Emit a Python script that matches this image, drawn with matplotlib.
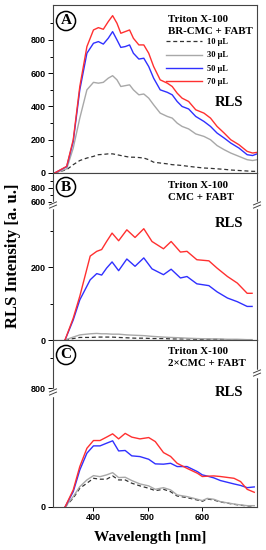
"""
RLS spectra, three stacked panels (A, B, C) with broken y axes
"""
import matplotlib
matplotlib.use("Agg")
import matplotlib.pyplot as plt
from matplotlib.lines import Line2D

# ---- data ------------------------------------------------------------------
labels = ["10 \u03bcL", "30 \u03bcL", "50 \u03bcL", "70 \u03bcL"]

# panel A: BR-CMC + FABT
wl_a = [330, 352, 364, 376, 389, 401, 410, 419, 428, 436, 444, 451, 459, 467,
        474, 484, 493, 502, 511, 523, 536, 545, 554, 563, 575, 588, 603, 615,
        627, 640, 652, 667, 682, 692, 700]
a_10 = [0, 20, 50, 75, 90, 100, 110, 112, 115, 115, 110, 105, 100, 95, 95, 93,
        90, 80, 65, 60, 55, 50, 48, 45, 40, 35, 30, 28, 25, 22, 18, 15, 12, 10, 10]
a_30 = [0, 25, 150, 330, 500, 545, 540, 545, 570, 585, 560, 520, 525, 530, 500,
        470, 475, 450, 410, 360, 340, 330, 300, 280, 265, 235, 220, 200, 165,
        140, 120, 100, 80, 75, 80]
a_50 = [0, 38, 190, 500, 720, 780, 790, 775, 810, 850, 800, 755, 760, 770, 720,
        685, 690, 640, 570, 500, 485, 470, 430, 400, 385, 340, 310, 280, 240,
        210, 180, 150, 110, 105, 115]
a_70 = [0, 40, 200, 520, 760, 860, 874, 864, 910, 946, 900, 840, 850, 860, 810,
        770, 770, 720, 640, 560, 540, 520, 480, 450, 430, 380, 360, 330, 280,
        240, 200, 170, 130, 120, 124]

# panel B: CMC + FABT
wl_b = [349, 364, 376, 395, 407, 416, 425, 435, 447, 462, 477, 493, 508, 529,
        543, 560, 572, 590, 612, 627, 646, 664, 682, 691]
b_10 = [0, 4, 7, 7, 8, 8, 8, 8, 7, 6, 5, 5, 4, 4, 3, 3, 3, 2, 2, 2, 1, 1, 1, 1]
b_30 = [0, 8, 14, 17, 18, 17, 17, 16, 16, 14, 13, 12, 10, 8, 7, 6, 5, 4, 3, 3,
        2, 2, 1, 1]
b_50 = [0, 55, 110, 165, 182, 178, 197, 214, 190, 222, 202, 225, 195, 179, 194,
        170, 174, 154, 149, 132, 115, 105, 92, 92]
b_70 = [0, 60, 120, 230, 243, 248, 270, 293, 272, 302, 281, 305, 270, 250, 270,
        241, 243, 220, 217, 197, 174, 156, 128, 128]

# panel C: 2xCMC + FABT
wl_c = [349, 364, 376, 389, 401, 413, 425, 436, 447, 459, 471, 486, 502, 514,
        529, 542, 554, 572, 591, 600, 609, 621, 633, 658, 670, 682, 695]
c_10 = [0, 60, 126, 160, 193, 187, 187, 209, 182, 182, 160, 142, 126, 110, 119,
        103, 74, 63, 47, 38, 54, 47, 34, 18, 12, 7, 7]
c_30 = [0, 70, 137, 182, 211, 204, 216, 231, 198, 200, 178, 155, 142, 119, 130,
        115, 81, 70, 52, 43, 58, 52, 36, 20, 14, 9, 9]
c_50 = [0, 103, 249, 362, 411, 411, 429, 445, 377, 380, 344, 339, 321, 290, 288,
        294, 272, 272, 238, 216, 208, 196, 178, 155, 145, 130, 135]
c_70 = [0, 115, 272, 395, 447, 447, 470, 492, 458, 495, 470, 458, 467, 440, 366,
        340, 294, 260, 227, 205, 207, 209, 205, 193, 171, 119, 99]

# ---- styling -----------------------------------------------------------------
W, H = 266, 550
SERIF = "Liberation Serif"
SANS = "Liberation Sans"
styles = [dict(color="#333333", lw=0.9, dashes=(3.2, 2.2)),
          dict(color="#a8a8a8", lw=1.0),
          dict(color="#3030ff", lw=1.0),
          dict(color="#ff3030", lw=1.0)]


def box(l, t, r, b):
    """pixel box (from top-left) -> figure fraction rect"""
    return [l / W, 1 - b / H, (r - l) / W, (b - t) / H]


def setup(ax, ylim, major, minor, xlabels=False):
    ax.set_xlim(327, 700)
    ax.set_ylim(*ylim)
    ax.set_yticks(major)
    ax.set_yticks(minor, minor=True)
    ax.set_xticks([400, 500, 600])
    ax.tick_params(axis="y", which="major", direction="out", length=3.5,
                   width=0.7, labelsize=6.5, pad=1.5)
    ax.tick_params(axis="y", which="minor", direction="out", length=2,
                   width=0.7)
    ax.tick_params(axis="x", direction="out", length=3, width=0.7,
                   labelsize=6.5, pad=1.5, labelbottom=xlabels,
                   bottom=xlabels)
    for lab in ax.get_yticklabels() + ax.get_xticklabels():
        lab.set_fontfamily(SANS)
        lab.set_fontweight("bold")
    for s in ax.spines.values():
        s.set_linewidth(0.8)
        s.set_color("#444444")


def curves(ax, wl, series):
    lines = []
    for ys, st, lab in zip(series, styles, labels):
        lines += ax.plot(wl, ys, label=lab, **st)
    return lines


def brk(fig, x, y):
    """little double-slash axis break at pixel (x, y)"""
    def px(xx, yy):
        return xx / W, 1 - yy / H
    fig.add_artist(Line2D(*zip(px(x, y - 2.5), px(x, y + 2.5)), color="white",
                          lw=2.5, transform=fig.transFigure))
    for d in (-1.6, 1.6):
        fig.add_artist(Line2D(*zip(px(x - 3.5, y + d + 1.5), px(x + 3.5, y + d - 1.5)),
                              color="#444444", lw=0.7, transform=fig.transFigure))


def panel_text(ax, letter, lines_txt, y_txt, rls_y):
    fig = ax.figure
    fig.text(66 / W, 1 - y_txt[0] / H, letter, family=SERIF, weight="bold",
             fontsize=11, ha="center", va="center",
             bbox=dict(boxstyle="circle,pad=0.2", fc="white", ec="black", lw=1.1))
    for t, yy in zip(lines_txt, y_txt[1:]):
        fig.text(168 / W, 1 - yy / H, t, family=SERIF, weight="bold",
                 fontsize=7.8, ha="left", va="center")
    fig.text(229 / W, 1 - rls_y / H, "RLS", family=SERIF, weight="bold",
             fontsize=10.5, ha="center", va="center")


fig = plt.figure(figsize=(W / 100, H / 100), dpi=100)

axA = fig.add_axes(box(53, 5, 257, 173))
axB1 = fig.add_axes(box(53, 173, 257, 205))
axB2 = fig.add_axes(box(53, 205, 257, 340))
axC = fig.add_axes(box(53, 340, 257, 507))

# panel A
handles = curves(axA, wl_a, [a_10, a_30, a_50, a_70])
setup(axA, (0, 1010), range(0, 801, 200), range(100, 1001, 200))
axA.legend(handles=handles, loc="upper left", frameon=False,
           bbox_to_anchor=(166 / W, 1 - 38 / H), bbox_transform=fig.transFigure,
           borderpad=0, borderaxespad=0, handlelength=4.3, handletextpad=0.6,
           labelspacing=0.65, prop=dict(family=SERIF, weight="bold", size=6))
panel_text(axA, "A", ["Triton X-100", "BR-CMC + FABT"], (21, 20, 32), 102)

# panel B (broken axis)
setup(axB1, (553, 1010), [600, 800], [700, 900])
axB1.spines["bottom"].set_visible(False)
curves(axB2, wl_b, [b_10, b_30, b_50, b_70])
setup(axB2, (0, 370), [0, 200], [100, 300])
axB2.spines["top"].set_visible(False)
brk(fig, 53, 205)
brk(fig, 257, 205)
panel_text(axB1, "B", ["Triton X-100", "CMC + FABT"], (187, 185, 197), 223)

# panel C
curves(axC, wl_c, [c_10, c_30, c_50, c_70])
setup(axC, (0, 1123), [0, 800], [1000], xlabels=True)
brk(fig, 53, 392)
brk(fig, 257, 373)
panel_text(axC, "C", ["Triton X-100", "2\u00d7CMC + FABT"], (355, 352, 364), 393)

fig.text(13 / W, 1 - 256 / H, "RLS Intensity [a. u.]", family=SERIF,
         weight="bold", fontsize=12, rotation=90, ha="center", va="center")
fig.text(150 / W, 1 - 537 / H, "Wavelength [nm]", family=SERIF,
         weight="bold", fontsize=11, ha="center", va="center")

fig.savefig("out.png", dpi=100)
